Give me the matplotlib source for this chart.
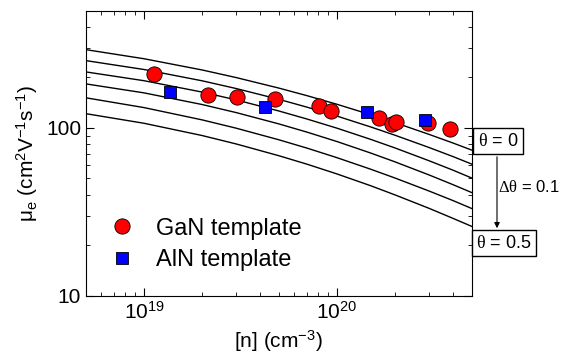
import matplotlib
matplotlib.use("Agg")
import matplotlib.pyplot as plt

plt.rcParams['font.family'] = ['Liberation Sans', 'DejaVu Sans']
plt.rcParams['mathtext.fontset'] = 'custom'
plt.rcParams['mathtext.rm'] = 'Liberation Sans'
plt.rcParams['mathtext.it'] = 'Liberation Sans:italic'
plt.rcParams['mathtext.cal'] = 'Liberation Serif'

# model curves (theta = 0 ... 0.5) at fixed carrier densities
n_curve = [5e18, 1e19, 2e19, 3e19, 5e19, 7e19, 1e20, 1.5e20, 2e20, 3e20, 4e20, 5e20]
mu_t0 = [292.8, 258.5, 221.6, 199.7, 172.8, 155.7, 138.4, 119.8, 107.6, 91.6, 81.3, 73.8]
mu_t1 = [251.9, 223.0, 191.0, 171.8, 148.1, 133.0, 117.7, 101.3, 90.5, 76.5, 67.5, 60.9]
mu_t2 = [215.7, 191.2, 163.6, 147.0, 126.2, 113.0, 99.7, 85.4, 76.0, 63.8, 56.0, 50.3]
mu_t3 = [183.0, 161.8, 137.9, 123.5, 105.7, 94.4, 83.0, 70.8, 62.8, 52.5, 45.9, 41.2]
mu_t4 = [151.2, 132.2, 111.7, 99.7, 85.0, 75.8, 66.5, 56.7, 50.3, 42.1, 36.9, 33.1]
mu_t5 = [121.6, 106.6, 90.1, 80.3, 68.3, 60.8, 53.2, 45.2, 39.9, 33.2, 28.9, 25.9]
curves = [mu_t0, mu_t1, mu_t2, mu_t3, mu_t4, mu_t5]

# measured samples
n_gan = [1.12e19, 2.15e19, 3.02e19, 4.75e19, 8.1e19, 9.34e19, 1.66e20, 1.93e20, 2.02e20, 2.96e20, 3.86e20]
mu_gan = [209, 157, 153, 149, 136, 127, 114, 106, 108, 107, 98]
n_aln = [1.36e19, 4.25e19, 1.43e20, 2.86e20]
mu_aln = [164, 133, 125, 111]

fig = plt.figure(figsize=(5.61, 3.56), dpi=100)
ax = fig.add_axes([0.1533, 0.1694, 0.6875, 0.8006])

for mu in curves:
    ax.plot(n_curve, mu, color='black', lw=1.0)

ax.plot(n_gan, mu_gan, 'o', color='red', mec='black', mew=0.6, ms=11, label='GaN template')
ax.plot(n_aln, mu_aln, 's', color='blue', mec='black', mew=0.6, ms=9, label='AlN template')

ax.set_xscale('log')
ax.set_yscale('log')
ax.set_xlim(5e18, 5e20)
ax.set_ylim(10, 500)

ax.tick_params(which='both', direction='in', top=True, right=True, labelsize=15)
ax.tick_params(which='major', length=6)
ax.tick_params(which='minor', length=3)
ax.set_yticks([10, 100])
ax.set_yticklabels(['10', '100'])

ax.set_xlabel('[n] (cm$^{-3}$)', fontsize=15)
ax.set_ylabel(r'$\mathrm{\mu}_\mathrm{e}$ (cm$^2$V$^{-1}$s$^{-1}$)', fontsize=15)

ax.legend(loc='center left', bbox_to_anchor=(-0.023, 0.18), frameon=False, fontsize=17,
          handlelength=2.0, handletextpad=0.45, labelspacing=0.4, numpoints=1)

box = dict(boxstyle='square,pad=0.25', fc='white', ec='black', lw=1.0)
fig.text(498 / 561, 1 - 141 / 356, r'$\mathcal{\theta}$ = 0', fontsize=13, ha='center', va='center', bbox=box)
fig.text(504 / 561, 1 - 243 / 356, r'$\mathcal{\theta}$ = 0.5', fontsize=13, ha='center', va='center', bbox=box)
fig.text(498.5 / 561, 1 - 187 / 356, r'$\mathcal{\Delta\theta}$ = 0.1', fontsize=12, ha='left', va='center')
ax.annotate('', xy=(497 / 561, 1 - 231 / 356), xytext=(497 / 561, 1 - 154 / 356),
            xycoords='figure fraction', textcoords='figure fraction',
            arrowprops=dict(arrowstyle='-|>', color='black', lw=0.8, mutation_scale=8))

fig.savefig('out.png', dpi=100)
